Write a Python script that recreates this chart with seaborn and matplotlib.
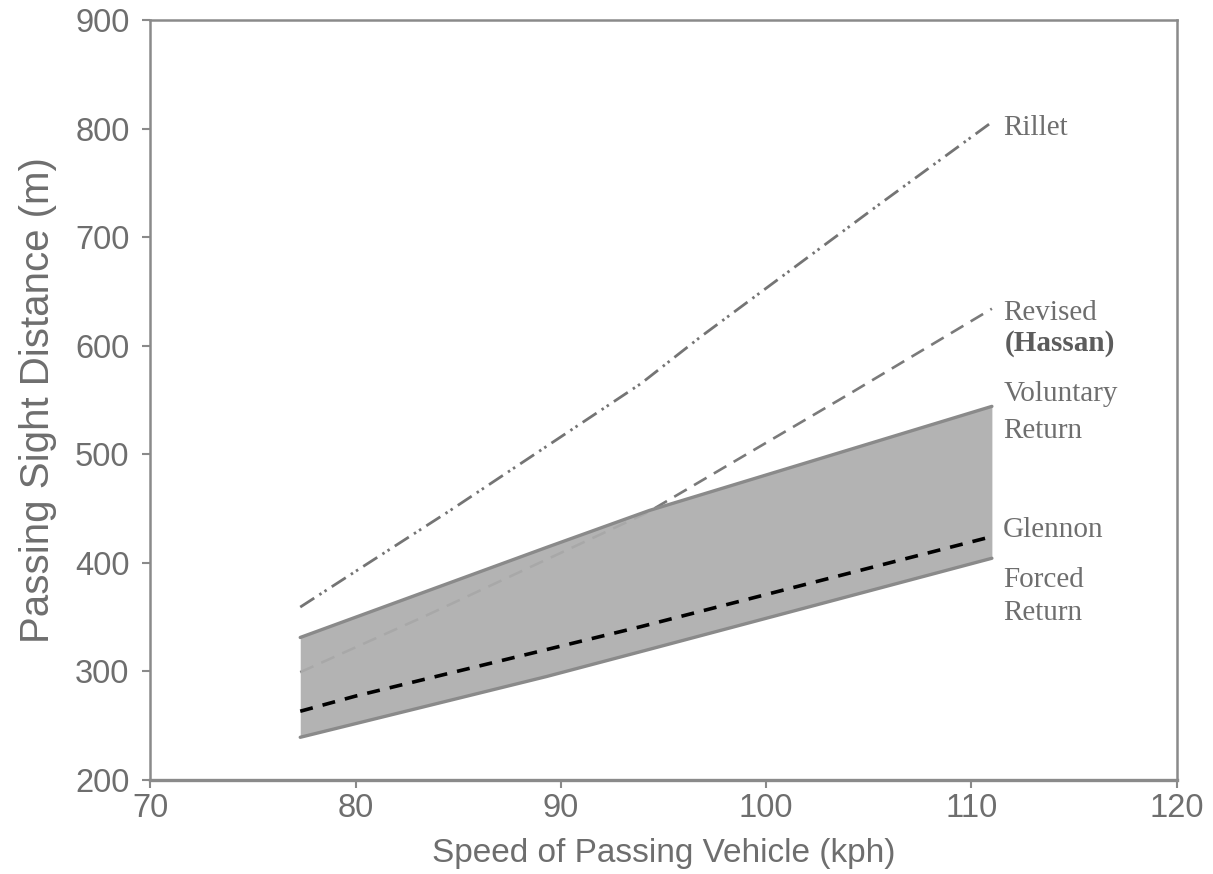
import pandas as pd
import seaborn as sns
import matplotlib.pyplot as plt

sns.set_style("white")
plt.rcParams['font.family'] = ['Liberation Sans', 'DejaVu Sans']

# values
rillet_speed = [77.3, 80.0, 84.6, 93.9, 96.8, 105.5, 111.0]
rillet_psd = [359, 392, 448, 565, 608, 730, 806]

revised_speed = [77.3, 83.3, 94.2, 104.1, 111.0]
revised_psd = [299, 350, 446, 556, 634]

band_speed = [77.3, 89.3, 94.3, 111.0]
voluntary_psd = [331, 414, 448, 544]
forced_psd = [239, 295, 320, 404]

glennon_speed = [77.3, 80.0, 93.9, 111.0]
glennon_psd = [263, 277, 341, 424]

grey = '#8a8a8a'
text_grey = '#6e6e6e'

band_df = pd.DataFrame({'speed': band_speed, 'voluntary': voluntary_psd, 'forced': forced_psd})
rillet_df = pd.DataFrame({'speed': rillet_speed, 'psd': rillet_psd})
revised_df = pd.DataFrame({'speed': revised_speed, 'psd': revised_psd})
glennon_df = pd.DataFrame({'speed': glennon_speed, 'psd': glennon_psd})

fig, ax = plt.subplots(figsize=(12.13, 8.74), dpi=100)
fig.subplots_adjust(left=0.124, right=0.970, bottom=0.108, top=0.977)

# revised line sits partly under the shaded band
sns.lineplot(data=revised_df, x='speed', y='psd', ax=ax, color='#7a7a7a', lw=1.9, zorder=1)
ax.lines[-1].set_dashes([5.5, 3.2])

ax.fill_between(band_df['speed'], band_df['forced'], band_df['voluntary'],
                color='#adadad', alpha=0.92, lw=0, zorder=2)
sns.lineplot(data=band_df, x='speed', y='voluntary', ax=ax, color=grey, lw=2.4, zorder=3)
sns.lineplot(data=band_df, x='speed', y='forced', ax=ax, color=grey, lw=2.4, zorder=3)

sns.lineplot(data=rillet_df, x='speed', y='psd', ax=ax, color='#747474', lw=2.0, zorder=3)
ax.lines[-1].set_dashes([6, 2.2, 0.9, 1.3, 0.9, 2.2])

sns.lineplot(data=glennon_df, x='speed', y='psd', ax=ax, color='black', lw=2.6, zorder=4)
ax.lines[-1].set_dashes([3.6, 2.8])

# curve labels
serif = ['Liberation Serif', 'DejaVu Serif']
lab = dict(family=serif, fontsize=21, color=text_grey, va='center', ha='left')
lx = 111.55
ax.text(lx, 801, 'Rillet', **lab)
ax.text(lx, 630, 'Revised', **lab)
ax.text(lx + 0.1, 602, '(Hassan)', family=serif, fontsize=21, color='#5c5c5c',
        fontweight='bold', va='center', ha='left')
ax.text(lx, 555, 'Voluntary', **lab)
ax.text(lx, 521, 'Return', **lab)
ax.text(lx, 430, 'Glennon', **lab)
ax.text(lx, 384, 'Forced', **lab)
ax.text(lx, 354, 'Return', **lab)

ax.set_xlim(70, 120)
ax.set_ylim(200, 900)
ax.set_xticks([70, 80, 90, 100, 110, 120])
ax.set_yticks([200, 300, 400, 500, 600, 700, 800, 900])
ax.set_xlabel('Speed of Passing Vehicle (kph)', fontsize=24, color=text_grey, labelpad=10)
ax.set_ylabel('Passing Sight Distance (m)', fontsize=29, color=text_grey, labelpad=13)
ax.tick_params(axis='both', direction='out', length=6, width=1.5, color=grey,
               labelsize=23.5, labelcolor=text_grey, pad=4)
ax.tick_params(axis='y', pad=9)
ax.tick_params(left=True, bottom=True)
for s in ax.spines.values():
    s.set_color(grey)
    s.set_linewidth(1.8)
ax.spines['bottom'].set_linewidth(2.4)

plt.savefig('out.png')
